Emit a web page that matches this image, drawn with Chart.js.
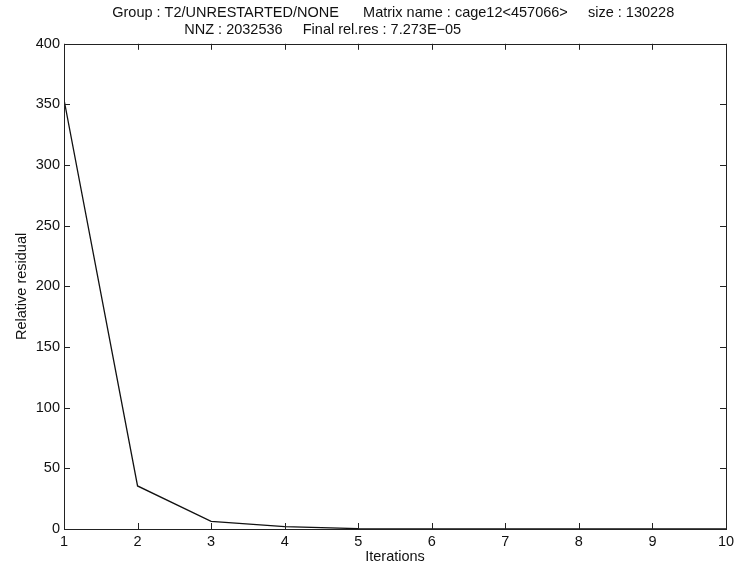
<!DOCTYPE html>
<html lang="en">
<head>
    <meta charset="UTF-8">
    <title>Relative residual - cage12</title>
    <script src="https://cdn.jsdelivr.net/npm/chart.js"></script>
    <style>
        body { margin: 0; background: #fff; }
        #wrap { width: 735px; height: 571px; }
    </style>
</head>
<body>
    <div id="wrap">
        <canvas id="residualChart"></canvas>
    </div>

    <script>
        const iterations = [1, 2, 3, 4, 5, 6, 7, 8, 9, 10];
        const residual = [354, 35.5, 6.3, 1.9, 0.3, 0.1, 0.05, 0.02, 0.005, 0.00007];
        // title is centred on the whole canvas, the blanks move it over the plot box;
        // second row keeps its trailing blanks, like a matlab char matrix
        const titleLines = [
            ' '.repeat(15) + 'Group : T2/UNRESTARTED/NONE      Matrix name : cage12<457066>     size : 130228',
            'NNZ : 2032536     Final rel.res : 7.273E\u221205' + ' '.repeat(20)
        ];
        const yTicks = [0, 50, 100, 150, 200, 250, 300, 350, 400];

        Chart.defaults.font.family = '"Liberation Sans", Arial, sans-serif';
        Chart.defaults.font.size = 14.5;
        Chart.defaults.color = '#111';

        // matlab style box with ticks pointing inwards on all four sides
        const insideTicks = {
            id: 'insideTicks',
            afterDatasetsDraw(chart) {
                const { ctx, chartArea: a, scales: { x, y } } = chart;
                const len = 6;
                ctx.save();
                ctx.strokeStyle = '#222';
                ctx.lineWidth = 1;
                ctx.strokeRect(Math.round(a.left) + 0.5, Math.round(a.top) + 0.5,
                    Math.round(a.width), Math.round(a.height));
                ctx.beginPath();
                x.ticks.forEach(t => {
                    const px = Math.round(x.getPixelForValue(t.value)) + 0.5;
                    ctx.moveTo(px, a.bottom); ctx.lineTo(px, a.bottom - len);
                    ctx.moveTo(px, a.top); ctx.lineTo(px, a.top + len);
                });
                y.ticks.forEach(t => {
                    const py = Math.round(y.getPixelForValue(t.value)) + 0.5;
                    ctx.moveTo(a.left, py); ctx.lineTo(a.left + len, py);
                    ctx.moveTo(a.right, py); ctx.lineTo(a.right - len, py);
                });
                ctx.stroke();
                ctx.restore();
            }
        };

        const ctx = document.getElementById('residualChart').getContext('2d');
        new Chart(ctx, {
            type: 'line',
            data: {
                datasets: [{
                    data: iterations.map((it, i) => ({ x: it, y: residual[i] })),
                    borderColor: '#111',
                    borderWidth: 1.3,
                    pointRadius: 0,
                    tension: 0,
                    fill: false
                }]
            },
            options: {
                responsive: true,
                maintainAspectRatio: false,
                animation: false,
                layout: { padding: { top: 0, right: 9, bottom: 0, left: 0 } },
                plugins: {
                    legend: { display: false },
                    tooltip: { enabled: false },
                    title: {
                        display: true,
                        text: titleLines,
                        color: '#111',
                        font: { size: 14.5, weight: 'normal' },
                        padding: { top: 4, bottom: 5 }
                    }
                },
                scales: {
                    x: {
                        type: 'linear',
                        min: 1,
                        max: 10,
                        grid: { display: false, drawTicks: false },
                        border: { display: false },
                        ticks: { stepSize: 1, padding: 4, color: '#111', maxRotation: 0 },
                        title: {
                            display: true,
                            text: 'Iterations',
                            color: '#111',
                            padding: { top: 0, bottom: 5 }
                        },
                        afterFit(scale) {
                            scale.height = 42;
                            scale.paddingLeft = 0;
                            scale.paddingRight = 0;
                        }
                    },
                    y: {
                        min: 0,
                        max: 400,
                        grid: { display: false, drawTicks: false },
                        border: { display: false },
                        afterBuildTicks(scale) { scale.ticks = yTicks.map(v => ({ value: v })); },
                        ticks: { padding: 4, color: '#111' },
                        title: {
                            display: true,
                            text: 'Relative residual',
                            color: '#111',
                            padding: { top: 13, bottom: 0 }
                        },
                        afterFit(scale) {
                            scale.width = 64;
                            scale.paddingTop = 0;
                            scale.paddingBottom = 0;
                        }
                    }
                }
            },
            plugins: [insideTicks]
        });
    </script>
</body>
</html>
